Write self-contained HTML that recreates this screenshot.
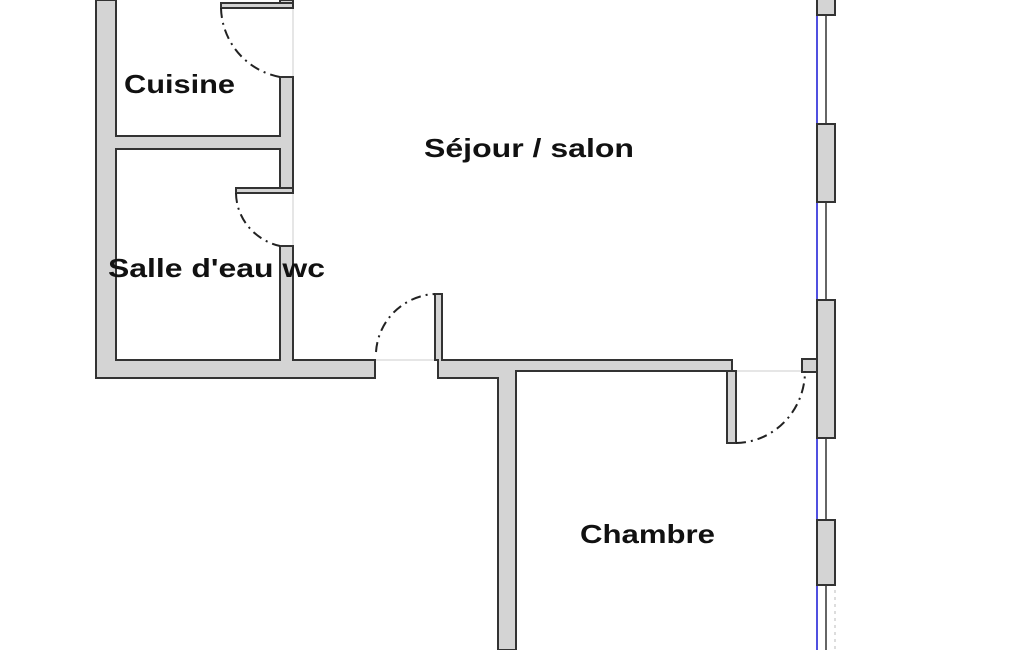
<!DOCTYPE html>
<html><head><meta charset="utf-8"><style>
html,body{margin:0;padding:0;background:#fff;}
svg{display:block;}
text{font-family:"Liberation Sans",sans-serif;font-weight:bold;fill:#111;}
</style></head><body>
<svg width="1025" height="650" viewBox="0 0 1025 650" xmlns="http://www.w3.org/2000/svg">
<g stroke="#ccc" stroke-width="1" fill="none">
<line x1="293" y1="0" x2="293" y2="360"/>
<line x1="375" y1="360" x2="435" y2="360"/>
<line x1="736" y1="371" x2="802" y2="371"/>
</g>
<!-- window lines -->
<line x1="817" y1="0" x2="817" y2="650" stroke="#5050e0" stroke-width="2"/>
<line x1="826" y1="0" x2="826" y2="650" stroke="#333" stroke-width="1.5"/>
<line x1="835" y1="590" x2="835" y2="650" stroke="#bbb" stroke-dasharray="3,4"/>
<g fill="#d4d4d4" stroke="#333" stroke-width="2">
<path d="M96,0 V378 H375 V360 H293 V246 H280 V360 H116 V149 H280 V192 H293 V77 H280 V136 H116 V0 Z"/>
<rect x="280" y="0" width="13" height="8"/>
<rect x="221" y="3" width="72" height="5"/>
<rect x="236" y="188" width="57" height="5"/>
<path d="M435,294 H442 V360 H732 V371 H516 V650 H498 V378 H438 V360 H435 Z"/>
<rect x="727" y="371" width="9" height="72"/>
<rect x="802" y="359" width="15" height="13"/>
<rect x="817" y="-2" width="18" height="17"/>
<rect x="817" y="124" width="18" height="78"/>
<rect x="817" y="300" width="18" height="138"/>
<rect x="817" y="520" width="18" height="65"/>
</g>
<g fill="none" stroke="#222" stroke-width="2" stroke-dasharray="10,5,2,5">
<path d="M221,8 A72,72 0 0 0 280,77"/>
<path d="M236,193 A57,55 0 0 0 280,246"/>
<path d="M376,352 A62,62 0 0 1 435,294"/>
<path d="M736,443 A70,72 0 0 0 805,371"/>
</g>
<text x="124" y="93" font-size="26" textLength="111" lengthAdjust="spacingAndGlyphs">Cuisine</text>
<text x="424" y="157" font-size="26" textLength="210" lengthAdjust="spacingAndGlyphs">Séjour / salon</text>
<text x="108" y="277" font-size="26" textLength="217" lengthAdjust="spacingAndGlyphs">Salle d'eau wc</text>
<text x="580" y="543" font-size="26" textLength="135" lengthAdjust="spacingAndGlyphs">Chambre</text>
</svg>
</body></html>
